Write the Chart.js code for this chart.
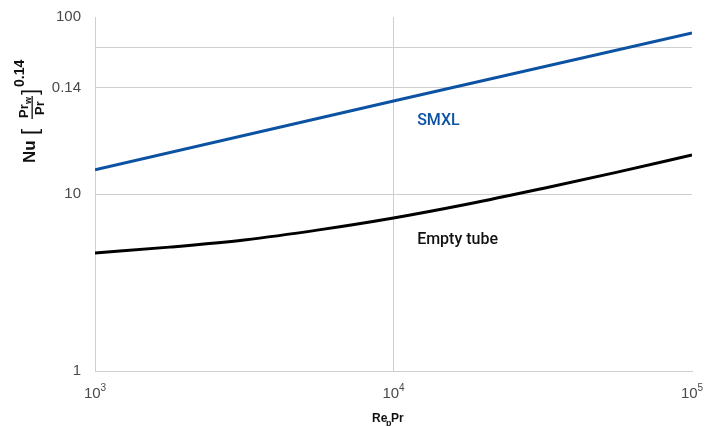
<!DOCTYPE html>
<html>
<head>
<meta charset="utf-8">
<script src="https://cdn.jsdelivr.net/npm/chart.js@4"></script>
<style>
  html, body { margin: 0; padding: 0; background: #fff; }
  #wrap { width: 715px; height: 426px; }
</style>
</head>
<body>
<div id="wrap"><canvas id="chart" width="715" height="426"></canvas></div>
<script>
// Re_p*Pr sample points (log spaced)
const xPoints = [1000, 1778, 3162, 5623, 10000, 17783, 31623, 56234, 100000];
const emptyTube = [4.64, 5.01, 5.5, 6.27, 7.32, 8.78, 10.75, 13.29, 16.6];
const smxlX = [1000, 10000, 100000];
const smxl = [13.7, 33.5, 81.2];

const yTicks = [1, 10, 40, 67, 100];
const yTickLabels = ['1', '10', '0.14', '', '100'];
const xTicks = [1000, 10000, 100000];
const xTickExp = ['3', '4', '5'];

const tickColor = '#4a4a4a';
const gridColor = '#cfcfcf';
const blue = '#0b52a3';
const sans = '"Liberation Sans", Arial, sans-serif';

// x tick labels with real superscripts
const xTickPlugin = {
  id: 'xTickLabels',
  afterDraw(chart) {
    const ctx = chart.ctx;
    const xs = chart.scales.x;
    ctx.save();
    ctx.fillStyle = tickColor;
    ctx.textBaseline = 'alphabetic';
    ctx.textAlign = 'left';
    xTicks.forEach((v, i) => {
      ctx.font = '15px ' + sans;
      const wBase = ctx.measureText('10').width;
      ctx.font = '10px ' + sans;
      const wExp = ctx.measureText(xTickExp[i]).width;
      const left = xs.getPixelForValue(v) - (wBase + wExp) / 2;
      ctx.font = '15px ' + sans;
      ctx.fillText('10', left, 398);
      ctx.font = '10px ' + sans;
      ctx.fillText(xTickExp[i], left + wBase, 391);
    });
    ctx.restore();
  }
};

// axis titles and line labels
const titlePlugin = {
  id: 'titles',
  afterDraw(chart) {
    const ctx = chart.ctx;
    const xs = chart.scales.x, ys = chart.scales.y;
    ctx.save();
    ctx.textBaseline = 'alphabetic';
    ctx.textAlign = 'left';

    // x title: Re_p Pr
    ctx.fillStyle = '#111';
    ctx.font = 'bold 12px ' + sans;
    ctx.fillText('Re', 372, 422);
    ctx.font = 'bold 9px ' + sans;
    ctx.fillText('p', 386, 426);
    ctx.font = 'bold 12px ' + sans;
    ctx.fillText('Pr', 391, 422);

    // y title: Nu [Pr_w / Pr]^0.14 (rotated)
    ctx.translate(35, 163);
    ctx.rotate(-Math.PI / 2);
    ctx.font = 'bold 17px ' + sans;
    ctx.fillText('Nu', 0, 0);
    ctx.font = '22px ' + sans;
    ctx.fillText('[', 28, 2);
    ctx.font = 'bold 13px ' + sans;
    ctx.fillText('Pr', 45, -7);
    ctx.font = 'bold 9px ' + sans;
    ctx.fillText('w', 59, -4);
    ctx.font = 'bold 13px ' + sans;
    ctx.fillText('Pr', 48, 9);
    ctx.fillRect(44, -3.5, 23, 1.3);
    ctx.font = '22px ' + sans;
    ctx.fillText(']', 68, 2);
    ctx.font = 'bold 14px ' + sans;
    ctx.fillText('0.14', 76, -11);
    ctx.setTransform(1, 0, 0, 1, 0, 0);
    ctx.restore();

    // series labels
    ctx.save();
    ctx.textBaseline = 'alphabetic';
    ctx.textAlign = 'left';
    ctx.font = '500 16px Roboto, ' + sans;
    ctx.fillStyle = blue;
    ctx.fillText('SMXL', xs.getPixelForValue(12000), ys.getPixelForValue(24.5));
    ctx.fillStyle = '#111';
    ctx.fillText('Empty tube', xs.getPixelForValue(12000), ys.getPixelForValue(5.22));
    ctx.restore();
  }
};

const ctx = document.getElementById('chart').getContext('2d');
new Chart(ctx, {
  type: 'line',
  data: {
    datasets: [
      {
        label: 'SMXL',
        data: smxlX.map((x, i) => ({ x: x, y: smxl[i] })),
        borderColor: blue,
        borderWidth: 3,
        pointRadius: 0,
        fill: false
      },
      {
        label: 'Empty tube',
        data: xPoints.map((x, i) => ({ x: x, y: emptyTube[i] })),
        borderColor: '#000',
        borderWidth: 3,
        pointRadius: 0,
        cubicInterpolationMode: 'monotone',
        fill: false
      }
    ]
  },
  options: {
    responsive: false,
    animation: false,
    layout: { padding: { top: 17, right: 23, left: 0, bottom: 0 } },
    plugins: { legend: { display: false }, tooltip: { enabled: false } },
    scales: {
      x: {
        type: 'logarithmic',
        min: 1000,
        max: 100000,
        afterBuildTicks: s => { s.ticks = xTicks.map(v => ({ value: v })); },
        afterFit: s => { s.height = 55; s.paddingLeft = 0; s.paddingRight = 0; },
        ticks: { display: false },
        grid: {
          color: c => (c.tick && c.tick.value === 10000 ? gridColor : 'rgba(0,0,0,0)'),
          drawTicks: false
        },
        border: { display: true, color: gridColor, width: 1 }
      },
      y: {
        type: 'logarithmic',
        min: 1,
        max: 100,
        afterBuildTicks: s => { s.ticks = yTicks.map(v => ({ value: v })); },
        afterFit: s => { s.width = 95; s.paddingTop = 0; s.paddingBottom = 0; },
        ticks: {
          padding: 14,
          color: tickColor,
          font: { size: 15, family: sans },
          callback: (v) => {
            const i = yTicks.indexOf(v);
            return i >= 0 ? yTickLabels[i] : '';
          }
        },
        grid: {
          color: c => (c.tick && (c.tick.value === 100 || c.tick.value === 1) ? 'rgba(0,0,0,0)' : gridColor),
          drawTicks: false
        },
        border: { display: true, color: gridColor, width: 1 }
      }
    }
  },
  plugins: [xTickPlugin, titlePlugin]
});
</script>
</body>
</html>
